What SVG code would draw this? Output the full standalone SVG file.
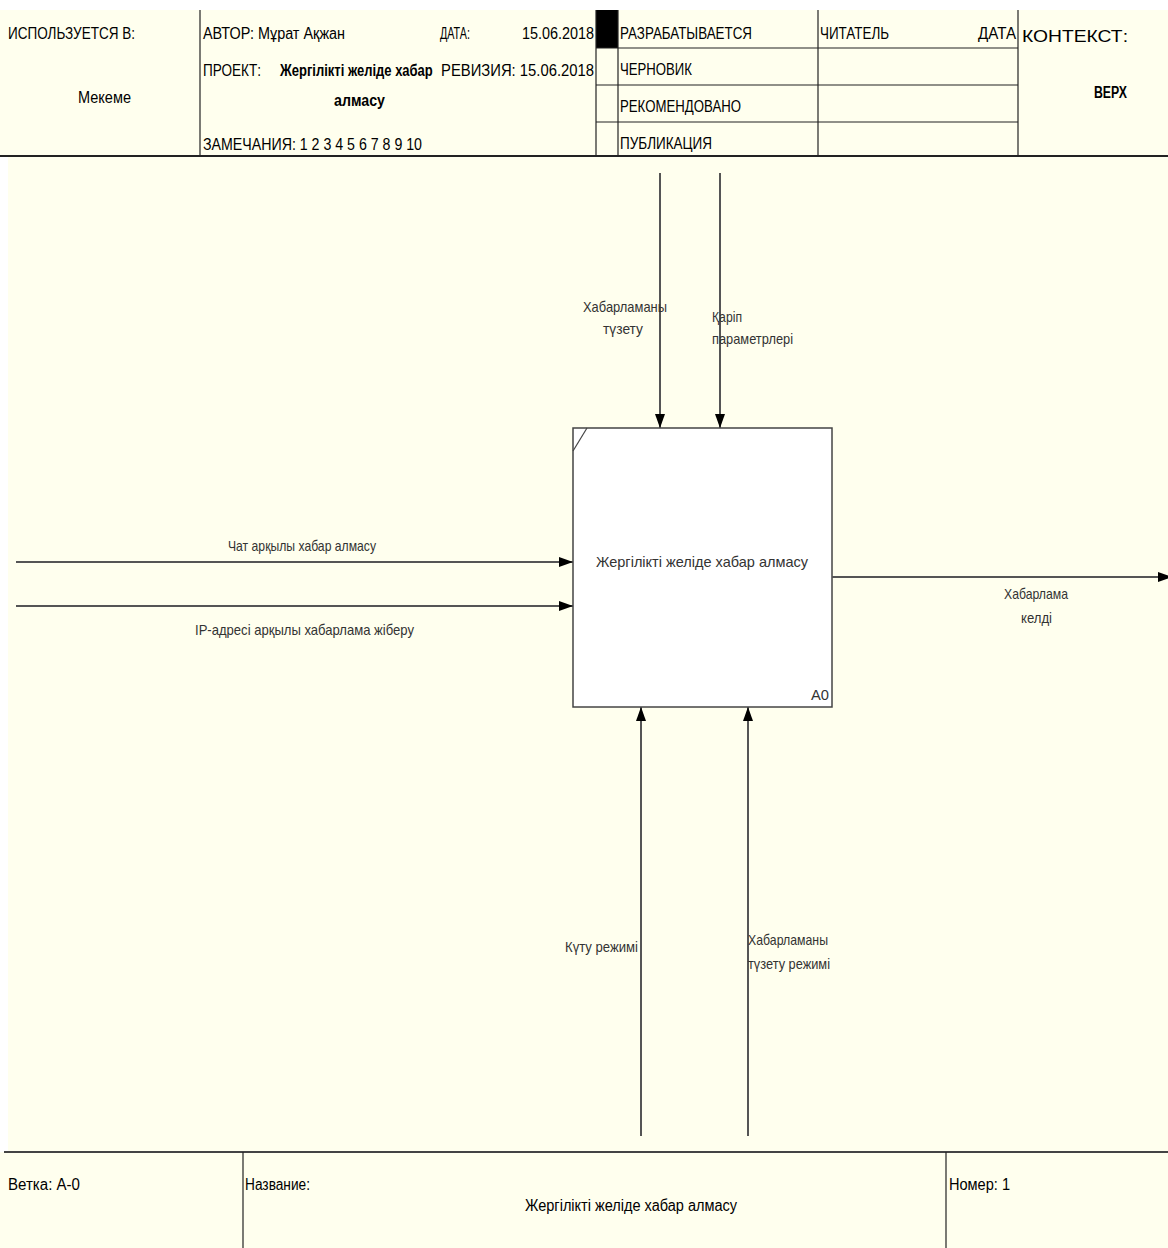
<svg xmlns="http://www.w3.org/2000/svg" width="1168" height="1248" viewBox="0 0 1168 1248">
<defs>
<style>
.h{font-family:"Liberation Sans",Arial,sans-serif;font-size:16px;fill:#000}
.hb{font-family:"Liberation Sans",Arial,sans-serif;font-size:16px;font-weight:bold;fill:#000}
.l{font-family:"Liberation Sans",Arial,sans-serif;font-size:15px;fill:#333}
.frame{stroke:#222;stroke-width:1.2;fill:none}
.conn{stroke:#555;stroke-width:2;fill:none}
</style>
<marker id="ah" viewBox="0 0 14 10" refX="14" refY="5" markerWidth="14" markerHeight="10" markerUnits="userSpaceOnUse" orient="auto">
<path d="M0,0 L14,5 L0,10 Z" fill="#000"/>
</marker>
</defs>
<rect x="0" y="0" width="1168" height="1248" fill="#fff"/>
<rect x="0" y="10" width="1168" height="147" fill="#FFFFEE"/>
<rect x="8" y="156" width="1160" height="997" fill="#FFFFEE"/>
<rect x="0" y="1152" width="1168" height="96" fill="#FFFFEE"/>

<g id="header">
<line class="frame" x1="200" y1="10" x2="200" y2="156"/>
<rect x="596" y="10" width="22" height="38" fill="#000"/>
<line class="frame" x1="596" y1="10" x2="596" y2="156"/>
<line class="frame" x1="618" y1="10" x2="618" y2="156"/>
<line class="frame" x1="818" y1="10" x2="818" y2="156"/>
<line class="frame" x1="1018" y1="10" x2="1018" y2="156"/>
<line class="frame" x1="596" y1="48" x2="1018" y2="48"/>
<line class="frame" x1="596" y1="85" x2="1018" y2="85"/>
<line class="frame" x1="596" y1="122" x2="1018" y2="122"/>
<line x1="0" y1="156" x2="1168" y2="156" stroke="#222" stroke-width="2"/>
<text class="h" x="8" y="39" textLength="127" lengthAdjust="spacingAndGlyphs">ИСПОЛЬЗУЕТСЯ В:</text>
<text class="h" x="78" y="103" textLength="53" lengthAdjust="spacingAndGlyphs">Мекеме</text>
<text class="h" x="203" y="39" textLength="142" lengthAdjust="spacingAndGlyphs">АВТОР: Мұрат Ақжан</text>
<text class="h" x="440" y="39" textLength="30" lengthAdjust="spacingAndGlyphs">ДАТА:</text>
<text class="h" x="522" y="39" textLength="72" lengthAdjust="spacingAndGlyphs">15.06.2018</text>
<text class="h" x="203" y="76" textLength="58" lengthAdjust="spacingAndGlyphs">ПРОЕКТ:</text>
<text class="hb" transform="translate(280,76) scale(0.8,1)" x="0" y="0" textLength="191" lengthAdjust="spacingAndGlyphs">Жергілікті желіде хабар</text>
<text class="hb" x="334" y="106" textLength="51" lengthAdjust="spacingAndGlyphs">алмасу</text>
<text class="h" x="441" y="76" textLength="153" lengthAdjust="spacingAndGlyphs">РЕВИЗИЯ: 15.06.2018</text>
<text class="h" x="203" y="150" textLength="219" lengthAdjust="spacingAndGlyphs">ЗАМЕЧАНИЯ: 1 2 3 4 5 6 7 8 9 10</text>
<text class="h" x="620" y="39" textLength="132" lengthAdjust="spacingAndGlyphs">РАЗРАБАТЫВАЕТСЯ</text>
<text class="h" x="620" y="75" textLength="72" lengthAdjust="spacingAndGlyphs">ЧЕРНОВИК</text>
<text class="h" x="620" y="112" textLength="121" lengthAdjust="spacingAndGlyphs">РЕКОМЕНДОВАНО</text>
<text class="h" x="620" y="149" textLength="92" lengthAdjust="spacingAndGlyphs">ПУБЛИКАЦИЯ</text>
<text class="h" x="820" y="39" textLength="69" lengthAdjust="spacingAndGlyphs">ЧИТАТЕЛЬ</text>
<text class="h" x="978" y="39" textLength="38" lengthAdjust="spacingAndGlyphs">ДАТА</text>
<text class="h" x="1022" y="42" font-size="22" textLength="106" lengthAdjust="spacingAndGlyphs">КОНТЕКСТ:</text>
<text class="hb" x="1094" y="98" font-size="20" textLength="33" lengthAdjust="spacingAndGlyphs">ВЕРХ</text>
</g>

<g id="A0">
<rect x="573" y="428" width="259" height="279" fill="#fff" stroke="#444" stroke-width="1.5"/>
<line x1="573" y1="451" x2="587" y2="428" stroke="#444" stroke-width="1.2"/>
<text class="l" x="702" y="567" font-size="17" text-anchor="middle" textLength="212" lengthAdjust="spacingAndGlyphs">Жергілікті желіде хабар алмасу</text>
<text class="l" x="811" y="700" font-size="16" textLength="18" lengthAdjust="spacingAndGlyphs">A0</text>
</g>

<g id="connectors">
<line class="conn" x1="660" y1="173" x2="660" y2="428" marker-end="url(#ah)"/>
<line class="conn" x1="720" y1="173" x2="720" y2="428" marker-end="url(#ah)"/>
<line class="conn" x1="16" y1="562" x2="573" y2="562" marker-end="url(#ah)"/>
<line class="conn" x1="16" y1="606" x2="573" y2="606" marker-end="url(#ah)"/>
<line class="conn" x1="832" y1="577" x2="1172" y2="577" marker-end="url(#ah)"/>
<line class="conn" x1="641" y1="1136" x2="641" y2="707" marker-end="url(#ah)"/>
<line class="conn" x1="748" y1="1136" x2="748" y2="707" marker-end="url(#ah)"/>
</g>

<g id="labels">
<text class="l" x="583" y="312" textLength="84" lengthAdjust="spacingAndGlyphs">Хабарламаны</text>
<text class="l" x="603" y="334" textLength="40" lengthAdjust="spacingAndGlyphs">түзету</text>
<text class="l" x="712" y="322" textLength="30" lengthAdjust="spacingAndGlyphs">Қаріп</text>
<text class="l" x="712" y="344" textLength="81" lengthAdjust="spacingAndGlyphs">параметрлері</text>
<text class="l" x="228" y="551" textLength="148" lengthAdjust="spacingAndGlyphs">Чат арқылы хабар алмасу</text>
<text class="l" x="195" y="635" textLength="219" lengthAdjust="spacingAndGlyphs">IP-адресі арқылы хабарлама жіберу</text>
<text class="l" x="1004" y="599" textLength="64" lengthAdjust="spacingAndGlyphs">Хабарлама</text>
<text class="l" x="1021" y="623" textLength="31" lengthAdjust="spacingAndGlyphs">келді</text>
<text class="l" x="565" y="952" textLength="73" lengthAdjust="spacingAndGlyphs">Күту режимі</text>
<text class="l" x="748" y="945" textLength="80" lengthAdjust="spacingAndGlyphs">Хабарламаны</text>
<text class="l" x="748" y="969" textLength="82" lengthAdjust="spacingAndGlyphs">түзету режимі</text>
</g>

<g id="footer">
<line x1="4" y1="1152" x2="1168" y2="1152" stroke="#444" stroke-width="2"/>
<line class="frame" x1="243" y1="1152" x2="243" y2="1248"/>
<line class="frame" x1="946" y1="1152" x2="946" y2="1248"/>
<text class="h" x="8" y="1190" textLength="72" lengthAdjust="spacingAndGlyphs">Ветка: А-0</text>
<text class="h" x="245" y="1190" textLength="65" lengthAdjust="spacingAndGlyphs">Название:</text>
<text class="h" x="525" y="1211" font-size="17" textLength="212" lengthAdjust="spacingAndGlyphs">Жергілікті желіде хабар алмасу</text>
<text class="h" x="949" y="1190" textLength="61" lengthAdjust="spacingAndGlyphs">Номер: 1</text>
</g>
</svg>
